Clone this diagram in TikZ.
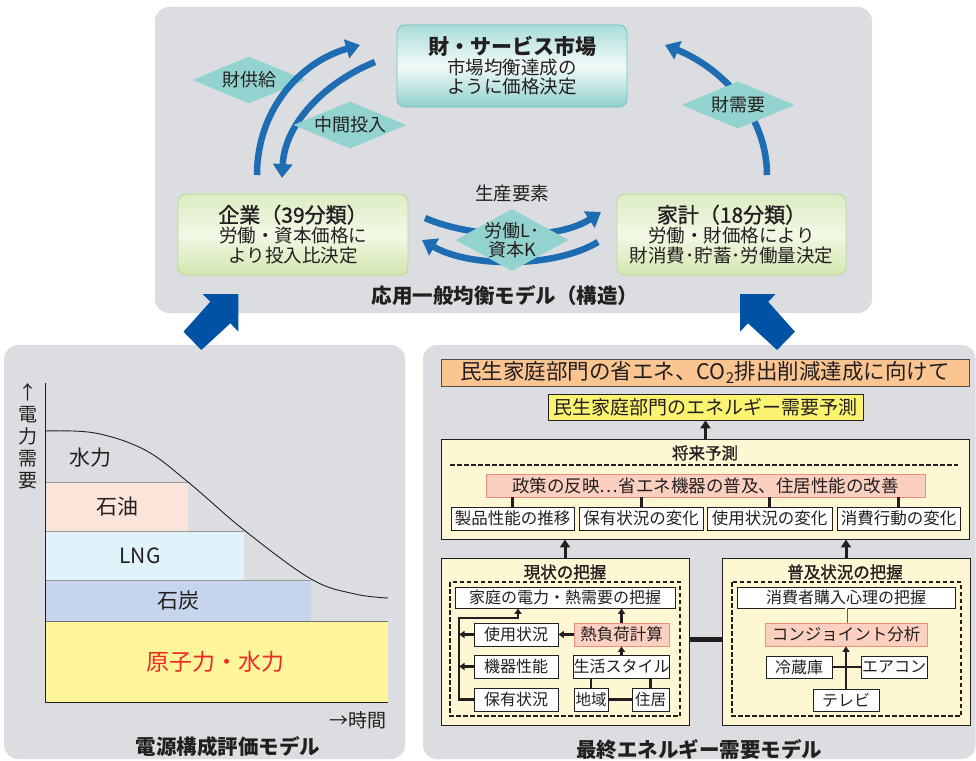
\documentclass[tikz,border=0pt]{standalone}
\usepackage{fontspec}
\setmainfont{Noto Sans CJK JP}
\newfontfamily\semib{Noto Sans CJK JP}[FakeBold=1.2]
\usetikzlibrary{shapes.geometric,arrows.meta,calc}
\definecolor{panelgray}{HTML}{DCDDE1}
\definecolor{arcblue}{HTML}{1E6DB3}
\definecolor{bigblue}{HTML}{0052A4}
\definecolor{diateal}{HTML}{93D3CF}
\definecolor{tealtop}{HTML}{A9DDD9}
\definecolor{tealmid}{HTML}{F2FAF9}
\definecolor{tealbot}{HTML}{8FD0CB}
\definecolor{tealline}{HTML}{6CC4BF}
\definecolor{greentop}{HTML}{DCECC3}
\definecolor{greenmid}{HTML}{F2F8E6}
\definecolor{greenbot}{HTML}{D2E6AE}
\definecolor{greenline}{HTML}{B9D98F}
\definecolor{oilc}{HTML}{FBE4DA}
\definecolor{lngc}{HTML}{E0F2FA}
\definecolor{coalc}{HTML}{C6D5EC}
\definecolor{nucc}{HTML}{FFF59B}
\definecolor{nucred}{HTML}{EE2A24}
\definecolor{goalc}{HTML}{FAC591}
\definecolor{yelc}{HTML}{FAF471}
\definecolor{creamc}{HTML}{FDF7D3}
\definecolor{pinkc}{HTML}{FCD0C0}
\definecolor{pinkline}{HTML}{F08C7A}
\definecolor{inkc}{HTML}{231F20}
\begin{document}
\begin{tikzpicture}[x=1pt,y=-1pt,
  every node/.style={text=inkc},
  panel/.style={fill=panelgray, rounded corners=14pt},
  gbox/.style={draw=greenline, line width=0.8pt, rounded corners=8pt, top color=greentop, bottom color=greenbot, middle color=greenmid, inner sep=0pt, align=center, font=\fontsize{18.5}{20}\selectfont},
  tbox/.style={draw=tealline, line width=0.8pt, rounded corners=8pt, top color=tealtop, bottom color=tealbot, middle color=tealmid, inner sep=0pt, align=center, font=\fontsize{18.5}{19.5}\selectfont},
  dia/.style={diamond, fill=diateal, inner sep=0pt, minimum width=113pt, minimum height=47pt},
  dialabel/.style={font=\fontsize{18}{19}\selectfont, align=center, inner sep=0pt},
  arc/.style={draw=arcblue, line width=6.5pt, -{Triangle[width=19pt,length=14pt]}},
  wbox/.style={draw=inkc, line width=0.8pt, fill=white, inner sep=0pt, font=\fontsize{16}{17}\selectfont},
  pbox/.style={draw=pinkline, line width=0.8pt, fill=pinkc, inner sep=0pt, font=\fontsize{16.5}{17}\selectfont},
  cbox/.style={draw=inkc, line width=0.9pt, fill=creamc, inner sep=0pt},
  conn/.style={draw=inkc, line width=2.6pt},
  sarr/.style={draw=inkc, line width=2.5pt, -{Triangle[width=7pt,length=5.5pt]}},
  barr/.style={draw=inkc, line width=3pt, -{Triangle[width=10pt,length=8pt]}},
  dashline/.style={draw=inkc, line width=1.2pt, dash pattern=on 4.5pt off 2.5pt},
  sub/.style={font=\fontsize{16.5}{17}\selectfont\semib, inner sep=0pt},
  ttl/.style={font=\fontsize{20.5}{22}\selectfont\bfseries, inner sep=0pt}
]
\useasboundingbox (0,0) rectangle (976,760);
\fill[white] (0,0) rectangle (976,760);

% ---------- panels ----------
\fill[panel] (155,7) rectangle (872,313);
\fill[panel] (4,345) rectangle (405,759);
\fill[panel] (423,345) rectangle (975.5,759);

% ---------- top panel ----------
\node[dia, label={[dialabel]center:財供給}] (supply) at (249,80) {};

\coordinate (upS) at (257,175);  \coordinate (upE) at (360,45);
\coordinate (dnS) at (375,62);   \coordinate (dnE) at (282,178);
\coordinate (rtS) at (767,175);  \coordinate (rtE) at (665,45);
\coordinate (mrS) at (425,218);  \coordinate (mrE) at (601,212);
\coordinate (mlS) at (598,242);  \coordinate (mlE) at (422,240);

\draw[arc] (upS) .. controls (257,110) and (300,62) .. (upE);
\draw[arc] (dnS) .. controls (330,80) and (285,120) .. (dnE);
\draw[arc] (rtS) .. controls (767,115) and (722,68) .. (rtE);
\draw[arc] (mrS) .. controls (470,238) and (555,242) .. (mrE);
\draw[arc] (mlS) .. controls (555,268) and (470,268) .. (mlE);

\node[dia, label={[dialabel]center:中間投入}] (inter) at (350,125) {};
\node[dia, label={[dialabel]center:財需要}] (demand) at (738,105) {};
\node[dia, minimum height=62pt, label={[dialabel]center:労働L･\\資本K}] (factor) at (512,240) {};
\node[font=\fontsize{18.5}{20}\selectfont, inner sep=0pt] (factorttl) at (512,193) {生産要素};

\node[tbox, minimum width=230pt, minimum height=82pt] (market) at (512,66)
  {{\fontsize{21}{23}\selectfont\bfseries 財・サービス市場}\\市場均衡達成の\\ように価格決定};
\node[gbox, minimum width=230pt, minimum height=81pt] (kigyo) at (293,234.5)
  {{\fontsize{21}{23}\selectfont\semib 企業（39分類）}\\労働・資本価格に\\より投入比決定};
\node[gbox, minimum width=229pt, minimum height=81pt] (kakei) at (731.5,234.5)
  {{\fontsize{21}{23}\selectfont\semib 家計（18分類）}\\労働・財価格により\\財消費･貯蓄･労働量決定};
\node[ttl] (cgettl) at (505,296) {応用一般均衡モデル（構造）};

% ---------- big arrows ----------
\fill[bigblue] (202.7,294) -- (238.4,294) -- (238.4,331.7) -- (230.4,323.3) -- (201.3,350) -- (183.5,331.7) -- (210.3,301.7) -- cycle;
\fill[bigblue] (775.7,294) -- (740,294) -- (740,331.7) -- (748,323.3) -- (777.1,350) -- (794.9,331.7) -- (768.1,301.7) -- cycle;

% ---------- left panel ----------
\fill[oilc] (45,482) rectangle (188,531);
\fill[lngc] (45,531) rectangle (244,580);
\fill[coalc] (45,580) rectangle (311,621);
\fill[nucc] (45,621) rectangle (388,702);
\draw[gray!80, line width=0.8pt] (45,482) -- (188,482);
\draw[gray!80, line width=0.8pt] (45,531) -- (244,531);
\draw[gray!80, line width=0.8pt] (45,580) -- (311,580);
\draw[gray!90!black, line width=1pt] (45,621) -- (388,621);
\draw[inkc, line width=0.9pt] plot[smooth, tension=0.6] coordinates {(45,431) (95,433) (145,450) (188,482) (244,530) (311,579) (355,594) (388,598)};
\draw[inkc, line width=1pt] (45,383) -- (45,702) -- (388,702);
\node[font=\fontsize{21}{22}\selectfont, inner sep=0pt] (hydro) at (90,458) {水力};
\node[font=\fontsize{21}{22}\selectfont, inner sep=0pt] (oil) at (117,507) {石油};
\node[font=\fontsize{21}{22}\selectfont, inner sep=0pt] (lng) at (140,556) {LNG};
\node[font=\fontsize{21}{22}\selectfont, inner sep=0pt] (coal) at (178,601) {石炭};
\node[font=\fontsize{23}{24}\selectfont, inner sep=0pt, text=nucred] (nuc) at (215,662) {原子力・水力};
\node[font=\fontsize{19}{22}\selectfont, inner sep=0pt, align=center] (yax) at (28,436) {↑\\電\\力\\需\\要};
\node[font=\fontsize{19}{20}\selectfont, inner sep=0pt] (xax) at (358,720) {→時間};
\node[ttl] (leftttl) at (228,747) {電源構成評価モデル};

% ---------- right panel ----------
\node[draw=inkc!80, line width=0.8pt, fill=goalc, minimum width=528pt, minimum height=27pt, inner sep=0pt, font=\fontsize{21.5}{22}\selectfont] (goal) at (705,372.5)
  {民生家庭部門の省エネ、CO\textsubscript{2}排出削減達成に向けて};
\node[draw=inkc, line width=0.8pt, fill=yelc, minimum width=315pt, minimum height=26pt, inner sep=0pt, font=\fontsize{19}{20}\selectfont] (forecast) at (705.5,407)
  {民生家庭部門のエネルギー需要予測};

\node[cbox, minimum width=528pt, minimum height=100pt] (future) at (705,489) {};
\node[sub] (futurettl) at (705,453) {将来予測};
\draw[dashline] (450,465) -- (958,465);
\node[pbox, minimum width=439pt, minimum height=23pt, font=\fontsize{17.5}{18}\selectfont] (policy) at (705.5,485.5) {政策の反映…省エネ機器の普及、住居性能の改善};
\node[wbox, minimum width=123pt, minimum height=23pt, font=\fontsize{16.5}{17}\selectfont] (f1) at (512.5,518.5) {製品性能の推移};
\node[wbox, minimum width=124pt, minimum height=23pt, font=\fontsize{16.5}{17}\selectfont] (f2) at (641,518.5) {保有状況の変化};
\node[wbox, minimum width=125pt, minimum height=23pt, font=\fontsize{16.5}{17}\selectfont] (f3) at (769.5,518.5) {使用状況の変化};
\node[wbox, minimum width=123pt, minimum height=23pt, font=\fontsize{16.5}{17}\selectfont] (f4) at (898.5,518.5) {消費行動の変化};
\foreach \f in {f1,f2,f3,f4} {\draw[conn, line width=3pt] (\f.north) -- (\f.north |- policy.south);}

\node[cbox, minimum width=248pt, minimum height=167pt] (genjo) at (565,641.5) {};
\node[cbox, minimum width=248pt, minimum height=167pt] (fukyu) at (846,641.5) {};
\draw[inkc, line width=5pt] ($(genjo.east)+(0,-2.5)$) -- ($(fukyu.west)+(0,-2.5)$);
\draw[barr] (genjo.north) -- (genjo.north |- future.south);
\draw[barr] (fukyu.north) -- (fukyu.north |- future.south);
\draw[barr] (future.north -| forecast.south) -- (forecast.south);

% current-state box
\node[sub] (genjottl) at (565,572) {現状の把握};
\draw[dashline] (450,582) rectangle (680,716);
\node[wbox, minimum width=220pt, minimum height=21pt] (katei) at (565,597.5) {家庭の電力・熱需要の把握};
\node[wbox, minimum width=84pt, minimum height=23pt] (shiyo) at (516,634.5) {使用状況};
\node[pbox, minimum width=95pt, minimum height=23pt] (netsu) at (621.5,634.5) {熱負荷計算};
\node[wbox, minimum width=84pt, minimum height=23pt] (kiki) at (516,666.5) {機器性能};
\node[wbox, minimum width=95pt, minimum height=23pt] (seikatsu) at (621.5,666.5) {生活スタイル};
\node[wbox, minimum width=84pt, minimum height=23pt] (hoyu) at (516,699.5) {保有状況};
\node[wbox, minimum width=34pt, minimum height=23pt, font=\fontsize{15.5}{16}\selectfont] (chiiki) at (591,699.5) {地域};
\node[wbox, minimum width=37pt, minimum height=23pt, font=\fontsize{15.5}{16}\selectfont] (jukyo) at (650.5,699.5) {住居};
\coordinate (busTop) at (459,618);
\coordinate (busBot) at (459,699.5);
\draw[sarr] (hoyu.west) -- (busBot) -- (busTop) -| ($(katei.south)+(-47,0)$);
\draw[sarr] (shiyo.west) -- (shiyo.west -| busTop);
\draw[sarr] (kiki.west) -- (kiki.west -| busTop);
\draw[sarr] (netsu.west) -- (shiyo.east);
\draw[sarr] (seikatsu.north) -- (netsu.south);
\draw[sarr] (netsu.north) -- (netsu.north |- katei.south);
\draw[conn] (chiiki.north) -- (chiiki.north |- seikatsu.south);
\draw[conn] (jukyo.north) -- (jukyo.north |- seikatsu.south);
\draw[conn] (chiiki.east) -- (jukyo.west);

% diffusion box
\node[sub] (fukyuttl) at (845,572) {普及状況の把握};
\draw[dashline] (732,582) rectangle (961,716);
\node[wbox, minimum width=218pt, minimum height=21pt] (shohi) at (846,597.5) {消費者購入心理の把握};
\node[pbox, minimum width=162pt, minimum height=23pt] (conj) at (846,634.5) {コンジョイント分析};
\node[wbox, minimum width=66pt, minimum height=22pt] (reizo) at (799,667) {冷蔵庫};
\node[wbox, minimum width=66pt, minimum height=22pt] (aircon) at (894,667) {エアコン};
\node[wbox, minimum width=66pt, minimum height=22pt] (tv) at (846,700) {テレビ};
\draw[gray!70!black, line width=0.7pt, double=creamc, double distance=1.6pt] (shohi.south) -- (conj.north);
\draw[sarr] (tv.north) -- (conj.south);
\draw[conn] (reizo.east) -- (aircon.west);

\node[ttl] (rightttl) at (699,750) {最終エネルギー需要モデル};
\end{tikzpicture}
\end{document}
